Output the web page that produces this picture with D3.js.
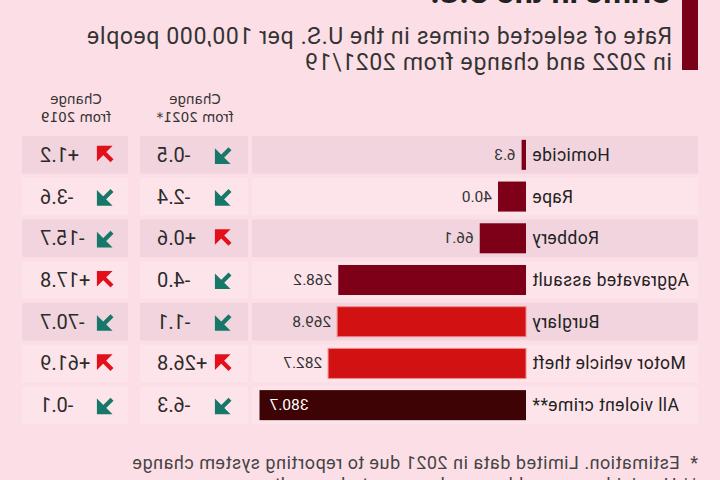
<!DOCTYPE html>
<html>
<head>
<meta charset="utf-8">
<script src="https://cdn.jsdelivr.net/npm/d3@7"></script>
<style>
  body { margin: 0; background: #fcdee6; }
  text { font-family: Roboto, "Noto Sans", sans-serif; }
</style>
</head>
<body>
<svg id="chart"></svg>
<script>
// CHART DATA //
const categories = ['Homicide', 'Rape', 'Robbery', 'Aggravated assault', 'Burglary', 'Motor vehicle theft', 'All violent crime**'];
const crimeType = ['violent', 'violent', 'violent', 'violent', 'property', 'property', 'total'];
const rate2022 = [6.3, 40.0, 66.1, 268.2, 269.8, 282.7, 380.7];
const change2021 = [-0.5, -2.4, 0.6, -4.0, -1.1, 26.8, -6.3];
const change2019 = [1.2, -3.6, -15.7, 17.8, -70.7, 61.9, -0.1];
const titleLines = ['Crime in the U.S.'];
const subtitleLines = ['Rate of selected crimes in the U.S. per 100,000 people', 'in 2022 and change from 2021/19'];
const colHeaders = [['Change', 'from 2021*'], ['Change', 'from 2019']];
const footnotes = ['*  Estimation. Limited data in 2021 due to reporting system change',
                   '** Homicide, rape, robbery and aggravated assault'];

// PLOT DEFAULTS
const WIDTH = 720;
const HEIGHT = 480;
const BG = '#fcdee6';
const BAND_DARK = '#f1d4de';
const BAND_LIGHT = '#fde4ea';
const BAR_COLORS = { violent: '#7d0018', property: '#d21112', total: '#3d0305' };
const UP_COLOR = '#e3101b';
const DOWN_COLOR = '#17786a';

const rows = categories.map((c, i) => ({
  name: c, type: crimeType[i], rate: rate2022[i], c21: change2021[i], c19: change2019[i], idx: i
}));

const svg = d3.select('#chart').attr('width', WIDTH).attr('height', HEIGHT);
svg.append('rect').attr('width', WIDTH).attr('height', HEIGHT).attr('fill', BG);

// the reference is a mirror image, so everything is drawn flipped
const root = svg.append('g').attr('transform', `translate(${WIDTH},0) scale(-1,1)`);

// header
root.append('rect').attr('x', 22).attr('y', -10).attr('width', 16).attr('height', 80).attr('fill', '#7a0018');
root.selectAll('.title')
  .data(titleLines)
  .join('text')
  .attr('class', 'title')
  .attr('x', 48)
  .attr('y', (d, i) => 3 - (titleLines.length - 1 - i) * 36)
  .attr('font-size', 32).attr('font-weight', 'bold').attr('fill', '#222')
  .text(d => d);
root.selectAll('.subtitle')
  .data(subtitleLines)
  .join('text')
  .attr('class', 'subtitle')
  .attr('x', 48)
  .attr('y', (d, i) => 44 + i * 26)
  .attr('font-size', 23).attr('letter-spacing', 0.65).attr('fill', '#333')
  .text(d => d);

// scales
const y = d3.scaleBand()
  .domain(categories)
  .range([134, 426])
  .paddingInner(0.1)
  .paddingOuter(0.05);

const x = d3.scaleLinear()
  .domain([0, 400])
  .range([194, 474]);

const panels = [[22, 468], [472, 580], [592, 698]];
const bandFill = d => (d.type === 'total' || d.idx % 2 === 1) ? BAND_LIGHT : BAND_DARK;

panels.forEach(p => {
  root.append('g').selectAll('rect')
    .data(rows)
    .join('rect')
    .attr('x', p[0]).attr('width', p[1] - p[0])
    .attr('y', d => y(d.name)).attr('height', y.bandwidth())
    .attr('fill', bandFill);
});

// bars
const barH = y.bandwidth() * 0.8;
const bars = root.append('g');
bars.selectAll('rect')
  .data(rows)
  .join('rect')
  .attr('x', x(0))
  .attr('y', d => y(d.name) + (y.bandwidth() - barH) / 2)
  .attr('width', d => x(d.rate) - x(0))
  .attr('height', barH)
  .attr('fill', d => BAR_COLORS[d.type])
  .attr('stroke', d => d.type === 'property' ? '#f08a8a' : 'none')
  .attr('stroke-width', 1);

// category labels
root.append('g').selectAll('text')
  .data(rows)
  .join('text')
  .attr('x', x(0) - 6)
  .attr('y', d => y(d.name) + y.bandwidth() / 2 + 6)
  .attr('text-anchor', 'end')
  .attr('font-size', 17.5).attr('letter-spacing', 0.4).attr('fill', '#222')
  .text(d => d.name);

// value labels
root.append('g').selectAll('text')
  .data(rows)
  .join('text')
  .attr('x', d => d.type === 'total' ? x(d.rate) - 10 : x(d.rate) + 6)
  .attr('y', d => y(d.name) + y.bandwidth() / 2 + 5)
  .attr('text-anchor', d => d.type === 'total' ? 'end' : 'start')
  .attr('font-size', 15.5)
  .attr('fill', d => d.type === 'total' ? '#fff' : '#333')
  .text(d => d3.format('.1f')(d.rate));

// change columns
const fmtChange = v => (v > 0 ? '+' : '-') + Math.abs(v).toFixed(1);
const arrowUp = 'M7,-7 L7,1.5 L-1.5,-7 Z M-6,6 L3.5,-3.5';
const arrowDown = 'M7,7 L7,-1.5 L-1.5,7 Z M-6,-6 L3.5,3.5';

const changeCols = [
  { key: 'c21', arrowX: 496, numX: 563, headX: 525, head: colHeaders[0] },
  { key: 'c19', arrowX: 614, numX: 680, headX: 644, head: colHeaders[1] }
];

changeCols.forEach(col => {
  const g = root.append('g');
  g.selectAll('.head')
    .data(col.head)
    .join('text')
    .attr('class', 'head')
    .attr('x', col.headX)
    .attr('y', (d, i) => 104 + i * 18)
    .attr('text-anchor', 'middle')
    .style('font-family', '"DejaVu Sans", sans-serif')
    .attr('font-size', 13.5).attr('fill', '#333')
    .text(d => d);

  const cells = g.selectAll('.cell')
    .data(rows)
    .join('g')
    .attr('class', 'cell')
    .attr('transform', d => `translate(0, ${y(d.name) + y.bandwidth() / 2})`);

  cells.append('path')
    .attr('transform', `translate(${col.arrowX}, 0)`)
    .attr('d', d => d[col.key] > 0 ? arrowUp : arrowDown)
    .attr('fill', d => d[col.key] > 0 ? UP_COLOR : DOWN_COLOR)
    .attr('stroke', d => d[col.key] > 0 ? UP_COLOR : DOWN_COLOR)
    .attr('stroke-width', 4.2);

  cells.append('text')
    .attr('x', col.numX)
    .attr('y', 7)
    .attr('text-anchor', 'end')
    .attr('font-size', 20).attr('fill', '#2b2b2b')
    .text(d => fmtChange(d[col.key]));
});

// footnotes
root.selectAll('.foot')
  .data(footnotes)
  .join('text')
  .attr('class', 'foot')
  .attr('x', 22)
  .attr('y', (d, i) => 469 + i * 22)
  .attr('font-size', 18).attr('letter-spacing', 0.5).attr('fill', '#444')
  .attr('xml:space', 'preserve')
  .text(d => d);
</script>
</body>
</html>
